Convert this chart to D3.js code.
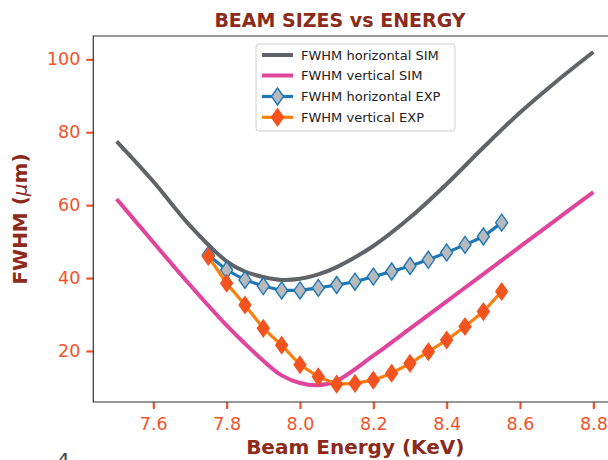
<!DOCTYPE html>
<html>
<head>
<meta charset="utf-8">
<script src="https://cdn.jsdelivr.net/npm/d3@7/dist/d3.min.js"></script>
<style>
  html, body { margin: 0; padding: 0; background: #fff; }
  svg { display: block; font-family: "DejaVu Sans", sans-serif; }
</style>
</head>
<body>
<svg id="chart" width="608" height="460"></svg>
<script>
// ---- data ----
const simX = [7.5, 7.6, 7.7, 7.8, 7.85, 7.9, 7.95, 8.0, 8.05, 8.1, 8.2, 8.3, 8.4, 8.5, 8.6, 8.7, 8.8];
const simH = [77.5, 66.5, 54.4, 44.6, 41.8, 40.3, 39.5, 39.8, 41.0, 43.0, 48.8, 56.6, 65.8, 75.8, 85.4, 94.0, 102.0];
const simV = [61.7, 49.8, 38.1, 27.0, 22.0, 17.3, 13.3, 11.2, 10.6, 11.8, 18.7, 26.1, 33.6, 41.1, 48.6, 56.1, 63.6];
const expX = [7.75, 7.8, 7.85, 7.9, 7.95, 8.0, 8.05, 8.1, 8.15, 8.2, 8.25, 8.3, 8.35, 8.4, 8.45, 8.5, 8.55];
const expH = [46.3, 42.2, 39.5, 37.8, 36.6, 36.6, 37.3, 38.1, 39.0, 40.4, 41.8, 43.3, 45.0, 47.0, 49.1, 51.4, 55.2];
const expV = [45.9, 38.6, 32.6, 26.2, 21.6, 16.2, 12.9, 10.9, 11.1, 12.0, 13.9, 16.6, 19.8, 23.0, 26.7, 30.8, 36.3];
const xTicks = [7.6, 7.8, 8.0, 8.2, 8.4, 8.6, 8.8];
const yTicks = [20, 40, 60, 80, 100];
const seriesNames = ["FWHM horizontal SIM", "FWHM vertical SIM", "FWHM horizontal EXP", "FWHM vertical EXP"];

// ---- layout ----
const L = 93.3, R = 617.2, T = 36, B = 402;
const tickColor = "#f2532a", labelColor = "#8c2a1b";
const cGray = "#606468", cPink = "#e0449c", cBlue = "#1f78b4", cDiamond = "#b7b9bc",
      cOrange = "#ff7f0e", cOrangeM = "#f2531f";

const svg = d3.select("#chart");
const x = d3.scaleLinear().domain([7.4364, 8.865]).range([L, R]);
const y = d3.scaleLinear().domain([6.0, 106.4]).range([B, T]);

svg.append("defs").append("clipPath").attr("id", "clip")
  .append("rect").attr("x", L).attr("y", T).attr("width", R - L).attr("height", B - T);

// axes
const xAxis = svg.append("g").attr("transform", `translate(0,${B})`)
  .call(d3.axisBottom(x).tickValues(xTicks).tickFormat(d3.format(".1f")).tickSize(7).tickPadding(9));
const yAxis = svg.append("g").attr("transform", `translate(${L},0)`)
  .call(d3.axisLeft(y).tickValues(yTicks).tickFormat(d3.format("d")).tickSize(7).tickPadding(6));
[xAxis, yAxis].forEach(g => {
  g.select(".domain").remove();
  g.selectAll(".tick line").attr("stroke", tickColor).attr("stroke-width", 2.2);
  g.selectAll(".tick text").attr("fill", tickColor).style("font-size", "17.5px")
    .style("font-family", "DejaVu Sans, sans-serif");
});

// lines
const plot = svg.append("g").attr("clip-path", "url(#clip)");
const lineOf = (xs, ys, curve) => d3.line().x((d, i) => x(xs[i])).y(d => y(d)).curve(curve)(ys);

plot.append("path").attr("d", lineOf(simX, simH, d3.curveCatmullRom.alpha(0.5)))
  .attr("fill", "none").attr("stroke", cGray).attr("stroke-width", 4);
plot.append("path").attr("d", lineOf(simX, simV, d3.curveCatmullRom.alpha(0.5)))
  .attr("fill", "none").attr("stroke", cPink).attr("stroke-width", 4);

const diamond = "M0,-8.5L6,0L0,8.5L-6,0Z";

plot.append("path").attr("d", lineOf(expX, expH, d3.curveLinear))
  .attr("fill", "none").attr("stroke", cBlue).attr("stroke-width", 3.2);
plot.selectAll(".dh").data(expH).join("path").attr("class", "dh")
  .attr("transform", (d, i) => `translate(${x(expX[i])},${y(d)})`)
  .attr("d", diamond).attr("fill", cDiamond).attr("stroke", cBlue).attr("stroke-width", 1.4);

plot.append("path").attr("d", lineOf(expX, expV, d3.curveLinear))
  .attr("fill", "none").attr("stroke", cOrange).attr("stroke-width", 3.2);
plot.selectAll(".dv").data(expV).join("path").attr("class", "dv")
  .attr("transform", (d, i) => `translate(${x(expX[i])},${y(d)})`)
  .attr("d", diamond).attr("fill", cOrangeM).attr("stroke", cOrangeM).attr("stroke-width", 1.2);

// spines
const sp = svg.append("g").attr("stroke", "#333").attr("stroke-width", 1.2).attr("fill", "none");
sp.append("path").attr("d", `M${L},${T}H${R}V${B}H${L}Z`);

// legend
const lg = svg.append("g");
lg.append("rect").attr("x", 256).attr("y", 44).attr("width", 199).attr("height", 87)
  .attr("rx", 3).attr("fill", "#fff").attr("fill-opacity", 0.85).attr("stroke", "#d0d0d0").attr("stroke-width", 1);
const rowsY = [55, 75.5, 96.5, 117.3];
const styles = [
  {c: cGray, w: 4, m: null},
  {c: cPink, w: 4, m: null},
  {c: cBlue, w: 3.2, m: {f: cDiamond, s: cBlue}},
  {c: cOrange, w: 3.2, m: {f: cOrangeM, s: cOrangeM}}
];
seriesNames.forEach((name, i) => {
  const st = styles[i], yy = rowsY[i];
  lg.append("line").attr("x1", 262).attr("x2", 293).attr("y1", yy).attr("y2", yy)
    .attr("stroke", st.c).attr("stroke-width", st.w);
  if (st.m) {
    lg.append("path").attr("d", diamond).attr("transform", `translate(277.5,${yy})`)
      .attr("fill", st.m.f).attr("stroke", st.m.s).attr("stroke-width", 1.4);
  }
  lg.append("text").attr("x", 301).attr("y", yy).attr("dy", "0.36em")
    .style("font-size", "13px").attr("fill", "#222").text(name);
});

// titles
svg.append("text").attr("x", 340).attr("y", 27).attr("text-anchor", "middle")
  .style("font-size", "19px").style("font-weight", "bold").attr("fill", labelColor)
  .text("BEAM SIZES vs ENERGY");
svg.append("text").attr("x", (L + R) / 2).attr("y", 454).attr("text-anchor", "middle")
  .style("font-size", "20px").style("font-weight", "bold").attr("fill", labelColor)
  .text("Beam Energy (KeV)");
const yl = svg.append("text").attr("transform", `translate(27,219) rotate(-90)`).attr("text-anchor", "middle")
  .style("font-size", "20px").style("font-weight", "bold").attr("fill", labelColor);
yl.append("tspan").text("FWHM (");
yl.append("tspan").style("font-style", "italic").style("font-weight", "normal").text("μ");
yl.append("tspan").text("m)");

// stray cropped glyph at the bottom-left (only its top shows, as in the reference)
svg.append("text").attr("x", 57).attr("y", 467).style("font-size", "20px").attr("fill", "#444").text("4");
</script>
</body>
</html>
